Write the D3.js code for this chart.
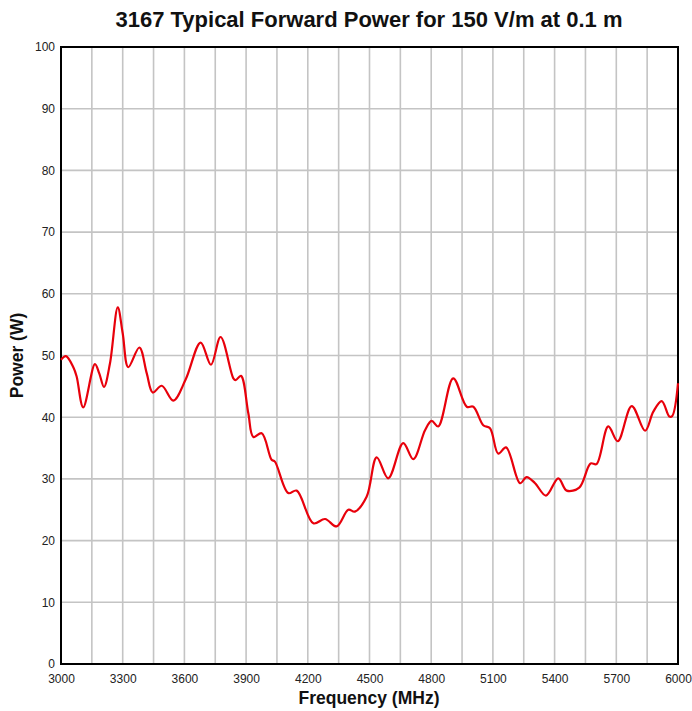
<!DOCTYPE html>
<html>
<head>
<meta charset="utf-8">
<script src="https://cdn.jsdelivr.net/npm/d3@7"></script>
<style>
  html, body { margin: 0; padding: 0; background: #fff; }
  svg { display: block; font-family: "Liberation Sans", Arial, sans-serif; }
</style>
</head>
<body>
<svg id="chart" width="692" height="711"></svg>
<script>
const title = "3167 Typical Forward Power for 150 V/m at 0.1 m";
const xLabel = "Frequency (MHz)";
const yLabel = "Power (W)";
const xTicks = [3000, 3300, 3600, 3900, 4200, 4500, 4800, 5100, 5400, 5700, 6000];
const yTicks = [0, 10, 20, 30, 40, 50, 60, 70, 80, 90, 100];
const frequency = [3000, 3024, 3060, 3076, 3108, 3165, 3186, 3209, 3238, 3276, 3300, 3327, 3381, 3417, 3446, 3490, 3546, 3606, 3679, 3729, 3776, 3838, 3849, 3875, 3911, 3935, 3976, 4024, 4040, 4105, 4146, 4227, 4284, 4340, 4397, 4429, 4486, 4535, 4591, 4664, 4713, 4770, 4802, 4834, 4907, 4973, 5005, 5053, 5086, 5126, 5164, 5232, 5264, 5305, 5358, 5418, 5459, 5520, 5575, 5604, 5661, 5707, 5775, 5840, 5880, 5921, 5958, 5972, 6000];
const power = [49.3, 49.9, 48.1, 46.6, 41.6, 48.6, 47.1, 44.9, 48.7, 57.8, 53.6, 48.1, 51.3, 47.1, 44.0, 45.1, 42.7, 46.1, 52.1, 48.5, 53.0, 46.3, 46.0, 46.7, 40.6, 36.8, 37.4, 33.1, 32.8, 27.7, 28.1, 22.8, 23.5, 22.3, 25.0, 24.7, 27.1, 33.5, 30.1, 35.8, 33.2, 37.9, 39.4, 38.5, 46.3, 41.7, 41.7, 38.7, 38.2, 34.1, 35.1, 29.3, 30.3, 29.3, 27.3, 30.1, 28.1, 28.6, 32.5, 32.4, 38.5, 36.1, 41.8, 37.8, 40.9, 42.6, 40.1, 40.2, 45.5];

(function () {
const svg = d3.select("#chart");
const mL = 61, mR = 678, mT = 47, mB = 664;

const x = d3.scaleLinear().domain([3000, 6000]).range([mL, mR]);
const y = d3.scaleLinear().domain([0, 100]).range([mB, mT]);

// grid
const xGrid = d3.range(3000, 6001, 150);
svg.append("g").selectAll("line").data(xGrid).join("line")
  .attr("x1", d => x(d)).attr("x2", d => x(d))
  .attr("y1", mT).attr("y2", mB)
  .attr("stroke", "#c4c4c4").attr("stroke-width", 1.6);
svg.append("g").selectAll("line").data(yTicks).join("line")
  .attr("x1", mL).attr("x2", mR)
  .attr("y1", d => y(d)).attr("y2", d => y(d))
  .attr("stroke", "#c4c4c4").attr("stroke-width", 1.6);

// frame
svg.append("rect").attr("x", mL).attr("y", mT)
  .attr("width", mR - mL).attr("height", mB - mT)
  .attr("fill", "none").attr("stroke", "#000").attr("stroke-width", 2);

// axes
const xAxis = svg.append("g").attr("transform", `translate(0,${mB})`)
  .call(d3.axisBottom(x).tickValues(xTicks).tickSize(0).tickPadding(10).tickFormat(d3.format("d")));
xAxis.select(".domain").remove();
xAxis.selectAll("text").attr("font-size", 12).attr("fill", "#222").attr("font-family", "Liberation Sans, Arial, sans-serif");

const yAxis = svg.append("g").attr("transform", `translate(${mL},0)`)
  .call(d3.axisLeft(y).tickValues(yTicks).tickSize(0).tickPadding(6).tickFormat(d3.format("d")));
yAxis.select(".domain").remove();
yAxis.selectAll("text").attr("font-size", 12).attr("fill", "#222").attr("font-family", "Liberation Sans, Arial, sans-serif");

// line
const pts = frequency.map((f, i) => [f, power[i]]);
const line = d3.line().x(d => x(d[0])).y(d => y(d[1])).curve(d3.curveCatmullRom.alpha(0.5));
svg.append("path").datum(pts).attr("d", line)
  .attr("fill", "none").attr("stroke", "#e8000b").attr("stroke-width", 2.2)
  .attr("stroke-linejoin", "round");

// titles
svg.append("text").attr("x", 369).attr("y", 27).attr("text-anchor", "middle")
  .attr("font-size", 22).attr("font-weight", "bold").attr("fill", "#111").text(title);
svg.append("text").attr("x", 369).attr("y", 704).attr("text-anchor", "middle")
  .attr("font-size", 17.5).attr("font-weight", "bold").attr("fill", "#111").text(xLabel);
svg.append("text").attr("transform", `translate(23,${(mT + mB) / 2}) rotate(-90)`)
  .attr("text-anchor", "middle")
  .attr("font-size", 17.5).attr("font-weight", "bold").attr("fill", "#111").text(yLabel);
})();
</script>
</body>
</html>
